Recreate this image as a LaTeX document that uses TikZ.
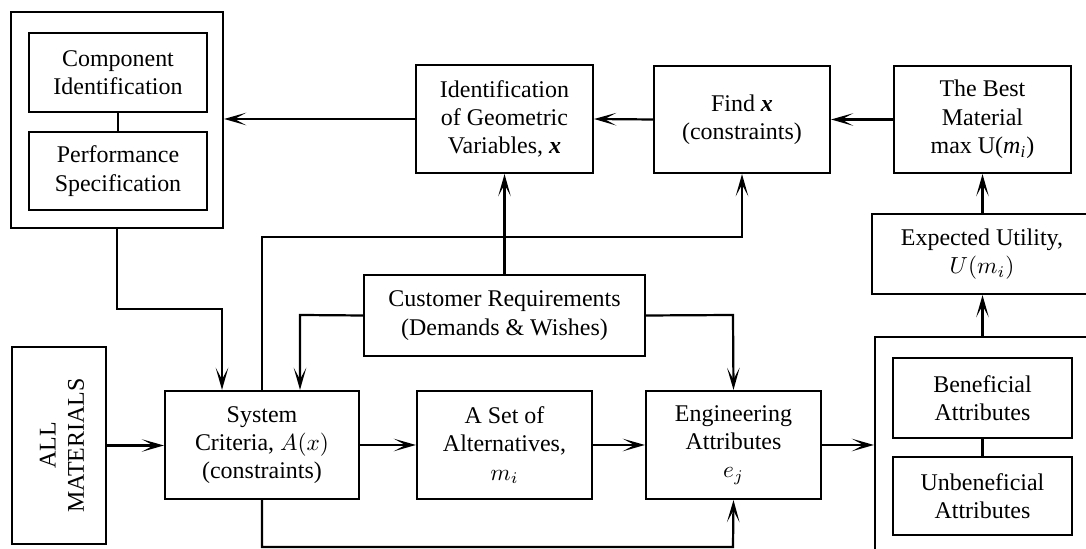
\documentclass[tikz,border=0pt]{standalone}
\usepackage{fontspec}
\setmainfont{Liberation Serif}
\usetikzlibrary{arrows.meta}
\newcommand{\bx}[1]{\textbf{\textit{#1}}}
\begin{document}
\begin{tikzpicture}[x=0.43pt,y=-0.43pt,
  font=\fontsize{10.3}{12.2}\selectfont,
  line width=0.95pt,
  box/.style 2 args={draw, line width=0.95pt, inner sep=0pt, align=center,
    minimum width=#1*0.43pt, minimum height=#2*0.43pt},
  flow/.style={line width=0.95pt, -{Stealth[length=9.5pt,width=5.4pt,inset=5pt]}},
  link/.style={line width=0.95pt}]
\useasboundingbox (0,0) rectangle (1086,549);
\clip (0,0) rectangle (1086,549);

% left group: component identification and performance specification
\node[box={212}{216}] (outerL) at (117,120) {};
\node[box={178}{79}] (comp) at (118,72.5) {Component\\Identification};
\node[box={178}{78}] (perf) at (118,171) {Performance\\Specification};
\draw[link] (comp) -- (perf);

% top row
\node[box={177}{108}] (ident) at (504.5,119) {Identification\\of Geometric\\Variables, \bx{x}};
\node[box={176}{107}] (findx) at (742,119.5) {Find \bx{x}\\(constraints)};
\node[box={177}{107}] (best) at (982.5,119.5) {The Best\\Material\\max U(\textit{m}\textsubscript{\textit{i}})};
\node[box={220}{80}] (eu) at (982,254) {Expected Utility,\\$U(m_i)$};

% customer requirements
\node[box={281}{81}] (cust) at (504.5,315.5) {Customer Requirements\\(Demands \& Wishes)};

% bottom row
\node[box={94}{197}] (allmat) at (59,445.5) {};
\node[rotate=90, align=center] (allmatlbl) at (62,445.5) {ALL\\MATERIALS};
\node[box={194}{108}] (sys) at (262,445) {System\\Criteria, $A(x)$\\(constraints)};
\node[box={175}{108}] (alt) at (504.5,445) {A Set of\\Alternatives,\\$m_i$};
\node[box={175}{108}] (eng) at (733.5,445) {Engineering\\Attributes\\$e_j$};

% right group: beneficial and unbeneficial attributes
\node[box={216}{226}] (outerR) at (983,450) {};
\node[box={179}{80}] (benef) at (982.5,398) {Beneficial\\Attributes};
\node[box={179}{78}] (unben) at (982.5,496) {Unbeneficial\\Attributes};
\draw[link] (benef) -- (unben);

% helper points for routed connectors
\coordinate (c1) at (262,237);
\coordinate (c2) at (742,237);
\coordinate (c3) at (117,309);
\coordinate (c4) at (222,309);
\coordinate (c5) at (300,315);
\coordinate (c6) at (733,315);
\coordinate (c7) at (262,547);
\coordinate (c8) at (733,547);

% connectors
\draw[flow] (ident.west) -- (outerL.east |- ident.west);
\draw[flow] (findx.west) -- (ident.east);
\draw[flow] (best.west) -- (findx.east);
\draw[flow] (eu.north -| best.south) -- (best.south);
\draw[flow] (outerR.north -| best.south) -- (eu.south -| best.south);
\draw[flow] (cust.north) -- (ident.south);
\draw[flow] (sys.north) -- (c1) -- (c2) -- (findx.south);
\draw[flow] (outerL.south -| c3) -- (c3) -- (c4) -- (c4 |- sys.north);
\draw[flow] (cust.west) -- (c5) -- (c5 |- sys.north);
\draw[flow] (cust.east) -- (c6) -- (eng.north);
\draw[flow] (sys.south) -- (c7) -- (c8) -- (eng.south);
\draw[flow] (allmat.east) -- (sys.west |- allmat.east);
\draw[flow] (sys.east) -- (alt.west);
\draw[flow] (alt.east) -- (eng.west);
\draw[flow] (eng.east) -- (outerR.west |- eng.east);
\end{tikzpicture}
\end{document}
